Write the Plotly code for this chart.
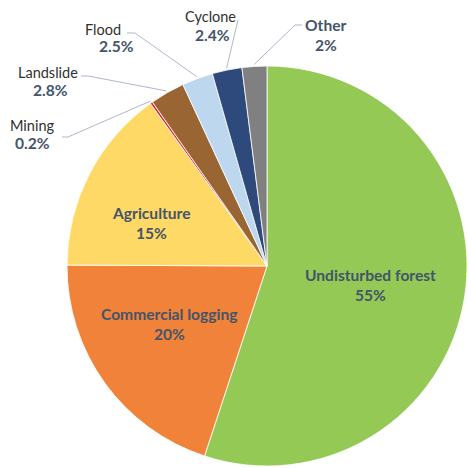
import math
import plotly.graph_objects as go

categories = ["Undisturbed forest", "Commercial logging", "Agriculture", "Mining",
              "Landslide", "Flood", "Cyclone", "Other"]
values = [55, 20, 15, 0.2, 2.8, 2.5, 2.4, 2]
pct_labels = ["55%", "20%", "15%", "0.2%", "2.8%", "2.5%", "2.4%", "2%"]
colors = ["#93C954", "#F0823A", "#FFD966", "#E3262A", "#996633", "#BDD7EE", "#2E4A7D", "#808080"]

W, H = 467, 468
CX, CY, R = 267, 266, 200

def px(x):
    return x / W

def py(y):
    return 1 - y / H

fig = go.Figure(go.Pie(
    labels=categories, values=values, sort=False, direction="clockwise", rotation=0,
    marker=dict(colors=colors, line=dict(color="white", width=0.8)),
    textinfo="none", hoverinfo="label+percent", showlegend=False,
    domain=dict(x=[px(CX - R), px(CX + R)], y=[py(CY + R), py(CY - R)]),
))

SLATE = "#44546A"
FONT = "Lato"
BOLD_SIZE = 15.6
REG_SIZE = 14.5
annotations = []
shapes = []

# inside labels: (category index, x, y of first line)
inside = {0: (370, 275), 1: (169, 314), 2: (151, 213)}
for i, (x, y) in inside.items():
    annotations.append(dict(x=px(x), y=py(y), xref="paper", yref="paper", text="<b>%s</b>" % categories[i],
                            showarrow=False, font=dict(family=FONT, size=BOLD_SIZE, color=SLATE),
                            xanchor="center", yanchor="middle", borderpad=0))
    annotations.append(dict(x=px(x), y=py(y + 20), xref="paper", yref="paper", text="<b>%s</b>" % pct_labels[i],
                            showarrow=False, font=dict(family=FONT, size=BOLD_SIZE, color=SLATE),
                            xanchor="center", yanchor="middle", borderpad=0))

# outside labels: index -> (name xy, pct xy, leader start points)
outside = {
    3: ((32, 125.5), (32, 142.5), [(62, 137), (68, 137)]),
    4: ((48, 72), (50, 89.5), [(81, 76), (88, 76)]),
    5: ((103, 29.5), (116, 46.5), [(127, 33), (135, 33)]),
    6: ((210, 17), (212, 35), [(238, 20)]),
    7: ((326, 25), (326, 45), [(302, 25), (295, 25)]),
}
total = sum(values)
cum = 0
mids = []
for v in values:
    mids.append((cum + v / 2) / total * 2 * math.pi)
    cum += v

for i, (nxy, pxy, pts) in outside.items():
    bold = i == 7
    ntext = "<b>%s</b>" % categories[i] if bold else categories[i]
    ncol = SLATE if bold else "#303030"
    annotations.append(dict(x=px(nxy[0]), y=py(nxy[1]), xref="paper", yref="paper", text=ntext,
                            showarrow=False,
                            font=dict(family=FONT, size=BOLD_SIZE if bold else REG_SIZE, color=ncol),
                            xanchor="center", yanchor="middle", borderpad=0))
    annotations.append(dict(x=px(pxy[0]), y=py(pxy[1]), xref="paper", yref="paper",
                            text="<b>%s</b>" % pct_labels[i],
                            showarrow=False, font=dict(family=FONT, size=BOLD_SIZE, color=SLATE),
                            xanchor="center", yanchor="middle", borderpad=0))
    a = mids[i]
    ex = CX + (R + 2) * math.sin(a)
    ey = CY - (R + 2) * math.cos(a)
    allpts = pts + [(ex, ey)]
    path = "M " + " L ".join("%f,%f" % (px(x), py(y)) for x, y in allpts)
    shapes.append(dict(type="path", xref="paper", yref="paper", path=path,
                       line=dict(color="#ADB9CA", width=1)))

fig.update_layout(
    width=W, height=H, margin=dict(l=0, r=0, t=0, b=0),
    paper_bgcolor="white", plot_bgcolor="white",
    annotations=annotations, shapes=shapes,
)
fig.write_html("out.html", config={"displayModeBar": False})

with open("out.html", encoding="utf-8") as f:
    html = f.read()
html = html.replace("<body>", '<body style="margin:0;padding:0;overflow:hidden">', 1)
with open("out.html", "w", encoding="utf-8") as f:
    f.write(html)
